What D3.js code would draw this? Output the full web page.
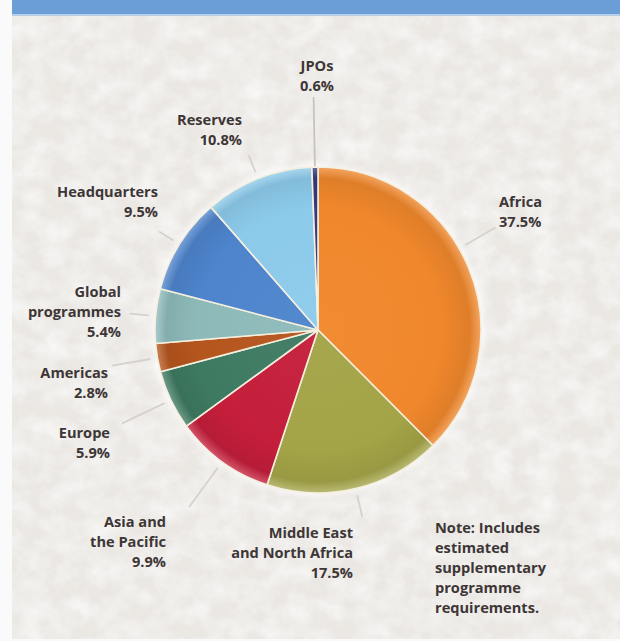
<!DOCTYPE html>
<html>
<head>
<meta charset="utf-8">
<script src="https://cdn.jsdelivr.net/npm/d3@7"></script>
<style>
  html, body { margin: 0; padding: 0; background: #fafafa; }
  svg { display: block; }
  .lbl { font-family: "Open Sans", sans-serif; font-weight: 700; font-size: 14.6px; fill: #3d3636; }
</style>
</head>
<body>
<svg id="chart" width="620" height="641"></svg>
<script>
// Budget shares by region / pillar (percent of total)
const categories = ["Africa", "Middle East and North Africa", "Asia and the Pacific", "Europe",
                    "Americas", "Global programmes", "Headquarters", "Reserves", "JPOs"];
const shares = [37.5, 17.5, 9.9, 5.9, 2.8, 5.4, 9.5, 10.8, 0.6];
const shareLabels = ["37.5%", "17.5%", "9.9%", "5.9%", "2.8%", "5.4%", "9.5%", "10.8%", "0.6%"];
const labelLines = [
  ["Africa"], ["Middle East", "and North Africa"], ["Asia and", "the Pacific"], ["Europe"],
  ["Americas"], ["Global", "programmes"], ["Headquarters"], ["Reserves"], ["JPOs"]
];
const sliceColors = ["#f0872c", "#a3a447", "#c41e3a", "#3e7a62", "#b5551e",
                     "#8dbab9", "#4d84cc", "#8ccaea", "#38387f"];
const noteLines = ["Note: Includes", "estimated", "supplementary", "programme", "requirements."];

// Layout
const W = 620, H = 641;
const cx = 318, cy = 330, R = 163;
const lineH = 20;
// label block placement: x, first baseline, anchor; leader: outer radius, optional angle (deg)
const labelLayout = [
  { x: 499, y: 207, anchor: "start", rOut: 205, angle: 60 },
  { x: 353, y: 538, anchor: "end",   rOut: 192 },
  { x: 166, y: 527, anchor: "end",   rOut: 219 },
  { x: 110, y: 438, anchor: "end",   rOut: 217 },
  { x: 108, y: 378, anchor: "end",   rOut: 209 },
  { x: 121, y: 297, anchor: "end",   rOut: 189 },
  { x: 158, y: 197, anchor: "end",   rOut: 187 },
  { x: 242, y: 125, anchor: "end",   rOut: 188 },
  { x: 317, y: 71,  anchor: "middle", rOut: 233, rIn: 164 }
];

const svg = d3.select("#chart");
const defs = svg.append("defs");

// paper texture: faint white crinkles over a warm light grey
const paper = defs.append("filter").attr("id", "paper")
  .attr("color-interpolation-filters", "sRGB")
  .attr("x", 0).attr("y", 0).attr("width", "100%").attr("height", "100%");
paper.append("feTurbulence").attr("type", "fractalNoise")
  .attr("baseFrequency", "0.045 0.05").attr("numOctaves", 4).attr("seed", 11).attr("result", "n");
paper.append("feColorMatrix").attr("in", "n").attr("type", "matrix")
  .attr("values", "0 0 0 0 1  0 0 0 0 1  0 0 0 0 1  1.5 0 0 0 -0.5").attr("result", "w");
paper.append("feComposite").attr("in", "w").attr("in2", "SourceGraphic").attr("operator", "in");

const glow = defs.append("filter").attr("id", "glow")
  .attr("color-interpolation-filters", "sRGB")
  .attr("x", "-20%").attr("y", "-20%").attr("width", "140%").attr("height", "140%");
glow.append("feGaussianBlur").attr("stdDeviation", 3);

const soft = defs.append("filter").attr("id", "soft").attr("color-interpolation-filters", "sRGB");
soft.append("feGaussianBlur").attr("stdDeviation", 0.5);

// background
svg.append("rect").attr("x", 0).attr("y", 0).attr("width", W).attr("height", H).attr("fill", "#fafafa");
svg.append("rect").attr("x", 12).attr("y", 0).attr("width", W - 12).attr("height", H - 2).attr("fill", "#ebe8e4");
svg.append("rect").attr("x", 12).attr("y", 0).attr("width", W - 12).attr("height", H - 2)
  .attr("fill", "#ebe8e4").attr("opacity", 0.75).attr("filter", "url(#paper)");
svg.append("rect").attr("x", 12).attr("y", 0).attr("width", W - 12).attr("height", 14).attr("fill", "#6b9dd6");
svg.append("rect").attr("x", 12).attr("y", 14).attr("width", W - 12).attr("height", 2).attr("fill", "#b9cfe9");

// pie geometry
const pie = d3.pie().value(d => d).sort(null);
const arcs = pie(shares);
const arc = d3.arc().innerRadius(0).outerRadius(R);

const mix = (a, b, t) => {
  const p = d3.rgb(a), q = d3.rgb(b);
  return d3.rgb(p.r + (q.r - p.r) * t, p.g + (q.g - p.g) * t, p.b + (q.b - p.b) * t).formatHex();
};

// radial shading for each slice (in the pie group's own coordinates)
sliceColors.forEach((c, i) => {
  const g = defs.append("radialGradient").attr("id", "sg" + i)
    .attr("gradientUnits", "userSpaceOnUse").attr("cx", 0).attr("cy", 0).attr("r", R);
  g.append("stop").attr("offset", "0").attr("stop-color", mix(c, "#ffffff", 0.04));
  g.append("stop").attr("offset", "0.75").attr("stop-color", c);
  g.append("stop").attr("offset", "0.93").attr("stop-color", mix(c, "#000000", 0.07));
  g.append("stop").attr("offset", "1").attr("stop-color", mix(c, "#ffffff", 0.25));
});

const pg = svg.append("g").attr("transform", `translate(${cx},${cy})`);
pg.append("circle").attr("r", R + 2).attr("fill", "#ffffff").attr("opacity", 0.8).attr("filter", "url(#glow)");

pg.append("g").attr("filter", "url(#soft)").selectAll("path").data(arcs).join("path")
  .attr("d", arc)
  .attr("fill", (d, i) => `url(#sg${i})`)
  .attr("stroke", "#f5efdf").attr("stroke-width", 1.6).attr("stroke-linejoin", "round");

// leader lines
const polar = (deg, r) => [cx + r * Math.sin(deg * Math.PI / 180), cy - r * Math.cos(deg * Math.PI / 180)];
const lead = svg.append("g");
arcs.forEach((a, i) => {
  const L = labelLayout[i];
  const deg = L.angle !== undefined ? L.angle : (a.startAngle + a.endAngle) / 2 * 180 / Math.PI;
  const p0 = polar(deg, L.rIn || 170), p1 = polar(deg, L.rOut);
  lead.append("line").attr("x1", p0[0]).attr("y1", p0[1]).attr("x2", p1[0]).attr("y2", p1[1])
    .attr("stroke", i === 8 ? "#c8c3be" : "#d6d1cc").attr("stroke-width", 1.8);
});

// labels
const lg = svg.append("g");
arcs.forEach((a, i) => {
  const L = labelLayout[i];
  const t = lg.append("text").attr("class", "lbl").attr("text-anchor", L.anchor);
  labelLines[i].concat([shareLabels[i]]).forEach((s, k) => {
    t.append("tspan").attr("x", L.x).attr("y", L.y + k * lineH).text(s);
  });
});

// note
const nt = svg.append("text").attr("class", "lbl").attr("text-anchor", "start");
noteLines.forEach((s, k) => nt.append("tspan").attr("x", 435).attr("y", 533 + k * lineH).text(s));
</script>
</body>
</html>
